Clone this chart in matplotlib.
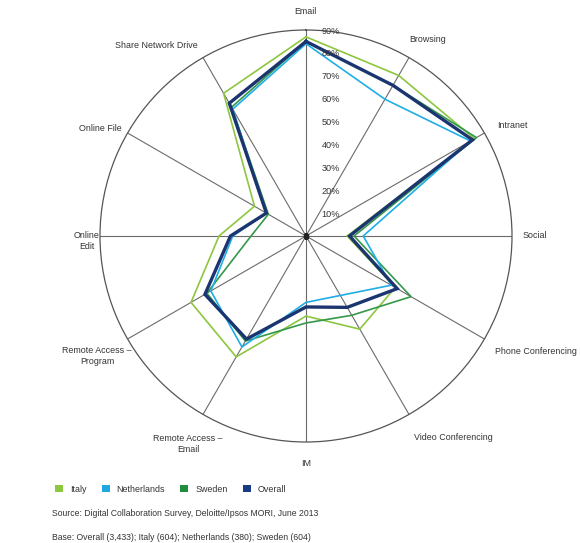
import numpy as np
import matplotlib
matplotlib.use("Agg")
import matplotlib.pyplot as plt
from matplotlib.patches import Patch
from matplotlib.transforms import offset_copy

# ---- data ----
categories = ["Email", "Browsing", "Intranet", "Social", "Phone Conferencing",
              "Video Conferencing", "IM", "Remote Access –\nEmail",
              "Remote Access –\nProgram", "Online\nEdit", "Online File",
              "Share Network Drive"]
italy       = [87, 81, 85, 18, 45, 47, 35, 61, 58, 38, 26, 72]
netherlands = [84, 69, 83, 25, 43, 30, 29, 56, 48, 32, 20, 64]
sweden      = [85, 76, 86, 21, 53, 40, 38, 53, 50, 24, 19, 65]
overall     = [85, 76, 84, 19, 46, 36, 31, 52, 51, 33, 20, 67]
r_ticks = [10, 20, 30, 40, 50, 60, 70, 80, 90]
r_tick_labels = ["10%", "20%", "30%", "40%", "50%", "60%", "70%", "80%", "90%"]
series_names = ["Italy", "Netherlands", "Sweden", "Overall"]

W, H = 580, 543
plt.rcParams['font.family'] = ['Liberation Sans', 'DejaVu Sans']
fig = plt.figure(figsize=(W / 100, H / 100), dpi=100)
fig.patch.set_facecolor("white")

def fx(x): return x / W
def fy(y): return 1 - y / H

cx, cy, R = 306, 236, 206
ax = fig.add_axes([fx(cx - R), fy(cy + R), 2 * R / W, 2 * R / H], projection="polar")
ax.set_theta_zero_location("N")
ax.set_theta_direction(-1)
ax.set_ylim(0, 90)

n = len(categories)
theta = np.deg2rad(np.arange(n) * 360.0 / n)

ax.set_xticks(theta)
ax.set_xticklabels([])
ax.set_yticks([])
ax.xaxis.grid(True, color="#6b6b6b", linewidth=0.8)
ax.yaxis.grid(False)
ax.spines["polar"].set_color("#555555")
ax.spines["polar"].set_linewidth(0.9)
ax.set_facecolor("white")

colors = {"Italy": "#8DC63F", "Netherlands": "#1FAEE6",
          "Sweden": "#34984A", "Overall": "#1B3570"}
widths = {"Italy": 1.2, "Netherlands": 1.2, "Sweden": 1.2, "Overall": 2.4}
data = {"Italy": italy, "Netherlands": netherlands, "Sweden": sweden, "Overall": overall}

th_closed = np.append(theta, theta[0])
for name in ["Italy", "Sweden", "Netherlands", "Overall"]:
    vals = np.append(data[name], data[name][0])
    ax.plot(th_closed, vals, color=colors[name], linewidth=widths[name],
            solid_joinstyle="miter", zorder=3)

ax.plot([0], [0], marker="s", markersize=3, color="#222222", zorder=4)

# radial labels
tr = offset_copy(ax.transData, fig=fig, x=25, y=-1, units="dots")
for r, lab in zip(r_ticks, r_tick_labels):
    ax.text(0, r, lab, transform=tr, ha="center", va="center",
            fontsize=6.6, color="#333333", zorder=5)

# category labels (pixel positions)
lab_pos = {
    0: (305, 12, "center"),
    1: (428, 40, "center"),
    2: (512, 125, "center"),
    3: (535, 236, "center"),
    4: (536, 352, "center"),
    5: (453, 437, "center"),
    6: (306, 464, "center"),
    7: (188, 444, "center"),
    8: (97, 356, "center"),
    9: (87, 241, "center"),
    10: (100, 128, "center"),
    11: (156, 45, "center"),
}
for i, cat in enumerate(categories):
    x, y, ha = lab_pos[i]
    fig.text(fx(x), fy(y), cat, ha=ha, va="center", fontsize=6.4,
             color="#333333", linespacing=1.3)

# legend
handles = [Patch(facecolor=c, edgecolor="none") for c in
           ["#8DC63F", "#1FA8E0", "#1E8E3E", "#1B3A84"]]
fig.legend(handles, series_names, loc="center left",
           bbox_to_anchor=(fx(47), fy(489)), ncol=4, frameon=False,
           fontsize=6.4, handlelength=0.9, handleheight=0.9,
           handletextpad=0.75, columnspacing=1.75, labelcolor="#333333")

fig.text(fx(52), fy(513), "Source: Digital Collaboration Survey, Deloitte/Ipsos MORI, June 2013",
         ha="left", va="center", fontsize=6.25, color="#333333")
fig.text(fx(52), fy(537), "Base: Overall (3,433); Italy (604); Netherlands (380); Sweden (604)",
         ha="left", va="center", fontsize=6.25, color="#333333")

fig.savefig("out.png", dpi=100, facecolor="white")
